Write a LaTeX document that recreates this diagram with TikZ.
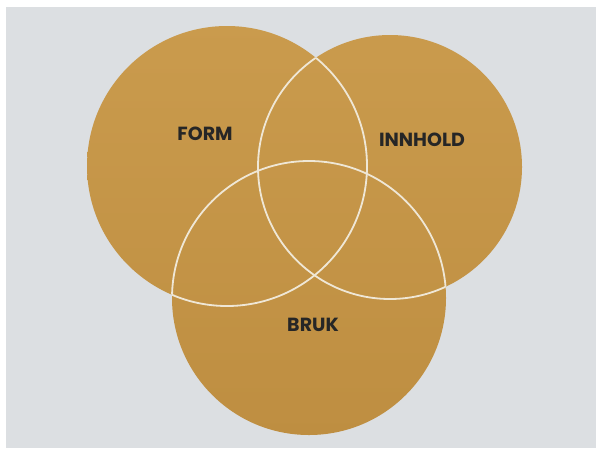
\documentclass[tikz,border=0pt]{standalone}
\usepackage{fontspec}
\newfontfamily\labelfont{Poppins}[UprightFont=* Bold]
\definecolor{paper}{HTML}{DCDFE2}
\definecolor{goldtop}{HTML}{CA9B4D}
\definecolor{goldbot}{HTML}{BE8E41}
\definecolor{seam}{HTML}{EFE7D6}
\begin{document}
\begin{tikzpicture}[x=1pt,y=-1pt, line join=round, line cap=round,
	lbl/.style={font=\labelfont\fontsize{19}{19}\selectfont, text=black!85},
	seamline/.style={draw=seam, line width=1.8pt}]
	\def\r{140} \def\rr{132} \def\rb{137} % radii
	\coordinate (cf) at (227,166);
	\coordinate (ci) at (390,167);
	\coordinate (cb) at (309,298);
	% photo background
	\fill[white] (0,0) rectangle (596,448);
	\fill[paper] (6,7) rectangle (596,448);
	\useasboundingbox (0,0) rectangle (596,448);
	% the three discs
	\begin{scope}
		\clip (cf) circle (\r) (ci) circle (\rr) (cb) circle (\rb);
		\shade[top color=goldtop, bottom color=goldbot] (80,20) rectangle (530,440);
	\end{scope}
	% seams, only inside the other discs
	\begin{scope}
		\clip (ci) circle (\rr) (cb) circle (\rb);
		\draw[seamline] (cf) circle (\r);
	\end{scope}
	\begin{scope}
		\clip (cf) circle (\r) (cb) circle (\rb);
		\draw[seamline] (ci) circle (\rr);
	\end{scope}
	\begin{scope}
		\clip (cf) circle (\r) (ci) circle (\rr);
		\draw[seamline] (cb) circle (\rb);
	\end{scope}
	\node[lbl] (form) at (205,134) {FORM};
	\node[lbl] (innhold) at (422,140) {INNHOLD};
	\node[lbl] (bruk) at (313,325) {BRUK};
\end{tikzpicture}
\end{document}
